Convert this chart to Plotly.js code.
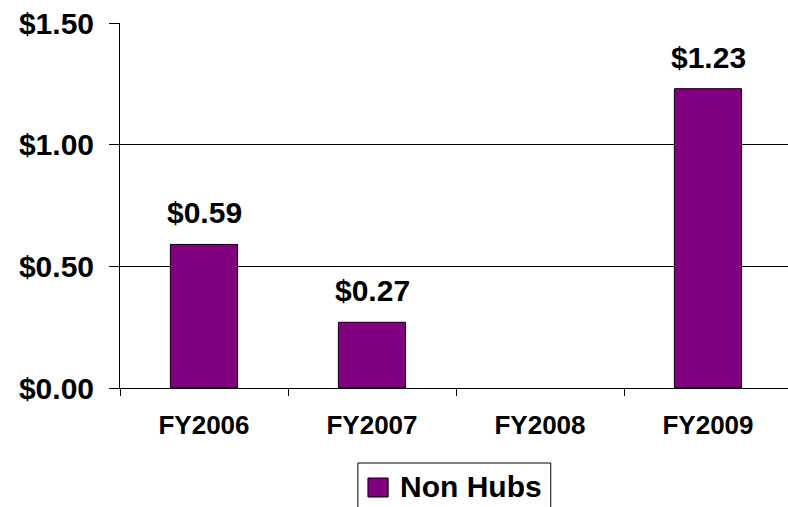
<!DOCTYPE html>
<html>
<head>
<meta charset="utf-8">
<script src="https://cdn.plot.ly/plotly-3.0.1.min.js"></script>
<style>
html,body{margin:0;padding:0;overflow:hidden;background:#fff;}
#chart{width:792px;height:507px;}
</style>
</head>
<body>
<div id="chart"></div>
<script>
var categories = ["FY2006", "FY2007", "FY2008", "FY2009"];
var values = [0.59, 0.27, null, 1.23];
var seriesName = "Non Hubs";
var yTickValues = [0, 0.5, 1.0, 1.5];
var yTickLabels = ["$0.00", "$0.50", "$1.00", "$1.50"];

var FONT = "Arial, 'Liberation Sans', sans-serif";
var BAR_COLOR = '#800080';

var annotations = [];
categories.forEach(function(c, i){
  if (values[i] === null) return;
  annotations.push({
    x: c, y: values[i], xref: 'x', yref: 'y',
    text: '$' + values[i].toFixed(2),
    showarrow: false, yanchor: 'bottom', yshift: 13,
    font: {family: FONT, size: 30, color: '#000', weight: 'bold'}
  });
});

// legend (drawn manually so the swatch size matches)
annotations.push({
  xref: 'paper', yref: 'paper', x: 0.4137, y: -0.271,
  xanchor: 'left', yanchor: 'middle', showarrow: false,
  text: seriesName,
  font: {family: FONT, size: 30, color: '#000', weight: 'bold'}
});
var shapes = [
  {type: 'rect', xref: 'paper', yref: 'paper', x0: 0.354, x1: 0.641, y0: -0.2055, y1: -0.40,
   line: {color: '#000', width: 1}, fillcolor: '#fff', layer: 'below'},
  {type: 'rect', xref: 'paper', yref: 'paper', x0: 0.369, x1: 0.399, y0: -0.2466, y1: -0.2986,
   line: {color: '#000', width: 1}, fillcolor: BAR_COLOR}
];

var trace = {
  type: 'bar',
  x: categories,
  y: values,
  name: seriesName,
  width: 0.4,
  marker: {color: BAR_COLOR, line: {color: '#000', width: 1}},
  hoverinfo: 'none',
  showlegend: false
};

var layout = {
  width: 792, height: 507,
  margin: {l: 120, r: 0, t: 23, b: 119, pad: 0, autoexpand: false},
  paper_bgcolor: '#fff', plot_bgcolor: '#fff',
  showlegend: false,
  xaxis: {
    type: 'category',
    tickson: 'boundaries',
    ticks: 'outside', ticklen: 7, tickcolor: '#000', tickwidth: 1,
    showline: true, linecolor: '#000', linewidth: 1,
    showgrid: false, zeroline: false,
    ticklabelstandoff: 14,
    tickfont: {family: FONT, size: 26, color: '#000', weight: 'bold'}
  },
  yaxis: {
    range: [0, 1.5],
    tickvals: yTickValues, ticktext: yTickLabels,
    ticks: 'outside', ticklen: 10, tickcolor: '#000', tickwidth: 1,
    showline: true, linecolor: '#000', linewidth: 1,
    showgrid: true, gridcolor: '#000', gridwidth: 1,
    zeroline: false,
    ticklabelstandoff: 9,
    tickfont: {family: FONT, size: 30, color: '#000', weight: 'bold'}
  },
  shapes: shapes,
  annotations: annotations
};

Plotly.newPlot('chart', [trace], layout, {displayModeBar: false, staticPlot: true});
</script>
</body>
</html>
